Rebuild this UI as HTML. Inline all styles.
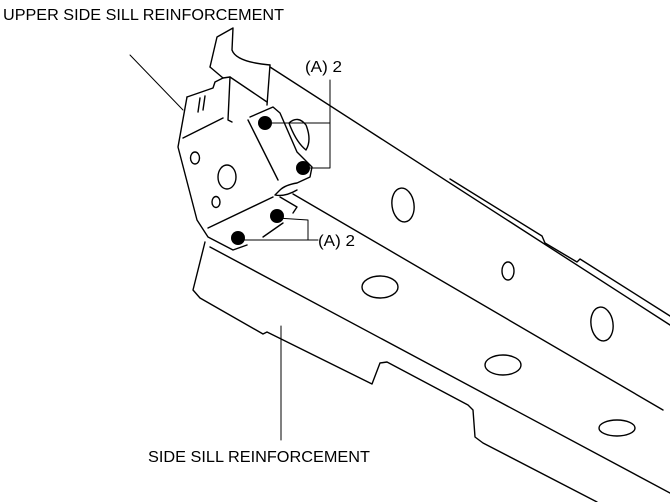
<!DOCTYPE html>
<html><head><style>
html,body{margin:0;padding:0;background:#fff;}
svg{display:block;}
text{font-family:"Liberation Sans",sans-serif;font-size:16px;fill:#000;}
</style></head><body>
<svg width="670" height="502" viewBox="0 0 670 502" xmlns="http://www.w3.org/2000/svg">
<g fill="none" stroke="#000" stroke-width="1.4" stroke-linejoin="round" stroke-linecap="round">
<path d="M270,67 L670,325"/>
<path d="M450,179 L542,236 L545,243 L577,262 L580,259 L670,316"/>
<path d="M293,194 L663,410"/>
<path d="M210,247 L670,493"/>
<path d="M205,242 L193,290 L200,298 L263,334 L267,332 L372,384 L380,363 L387,362 L468,405 L473,410 L475,437 L483,443 L597,502"/>
<ellipse cx="403" cy="205" rx="11" ry="17" transform="rotate(-8 403 205)"/>
<ellipse cx="508" cy="271" rx="6" ry="9"/>
<ellipse cx="380" cy="287" rx="18" ry="11"/>
<ellipse cx="602" cy="324" rx="11" ry="17" transform="rotate(-8 602 324)"/>
<ellipse cx="503" cy="365" rx="18" ry="10"/>
<ellipse cx="617" cy="428" rx="18" ry="8"/>
<path d="M210,67 L217,37 L233,28 L232,50 Q236,62 270,65"/>
<path d="M270,65 L267,105"/>
<path d="M210,67 L223,78 L230,77 L228,120 L232,122"/>
<path d="M230,77 L267,102"/>
<path d="M187,97 L213,88 L215,82 L223,78"/>
<path d="M200,98 L198,112 M205,96 L203,110"/>
<path d="M187,97 L178,147 L197,220 L208,237 L233,250 L247,245"/>
<path d="M183,138 L223,118"/>
<path d="M248,120 L278,180"/>
<path d="M250,117 L273,107 L280,113 L297,152 L312,167 L310,177 L297,183 Q285,185 280,190 L275,195 Q285,197 297,190"/>
<path d="M208,228 L273,197"/>
<path d="M280,197 L297,207 L293,213"/>
<path d="M263,237 L283,223"/>
<path d="M289,123 Q298,115 306,125 Q312,140 306,150 Q296,142 289,123"/>
<ellipse cx="195" cy="158" rx="4.5" ry="6"/>
<ellipse cx="227" cy="177" rx="9" ry="12"/>
<ellipse cx="216" cy="202" rx="4" ry="5.5"/>
<path d="M130,55 L183,110" stroke-width="1"/>
<path d="M281,326 L281,440" stroke-width="1"/>
<path d="M265,123 L330,123 M303,168 L330,168 M330,80 L330,168" stroke-width="1"/>
<path d="M277,218 L308,220 L308,240 M238,240 L318,240" stroke-width="1"/>
</g>
<g fill="#000">
<circle cx="265" cy="123" r="7"/>
<circle cx="303" cy="168" r="7"/>
<circle cx="277" cy="216" r="7"/>
<circle cx="238" cy="238" r="7"/>
</g>
<text x="3" y="20" textLength="281" lengthAdjust="spacingAndGlyphs">UPPER SIDE SILL REINFORCEMENT</text>
<text x="305" y="72" textLength="37" lengthAdjust="spacingAndGlyphs">(A) 2</text>
<text x="318" y="246" textLength="37" lengthAdjust="spacingAndGlyphs">(A) 2</text>
<text x="148" y="462" textLength="222" lengthAdjust="spacingAndGlyphs">SIDE SILL REINFORCEMENT</text>
</svg>
</body></html>
